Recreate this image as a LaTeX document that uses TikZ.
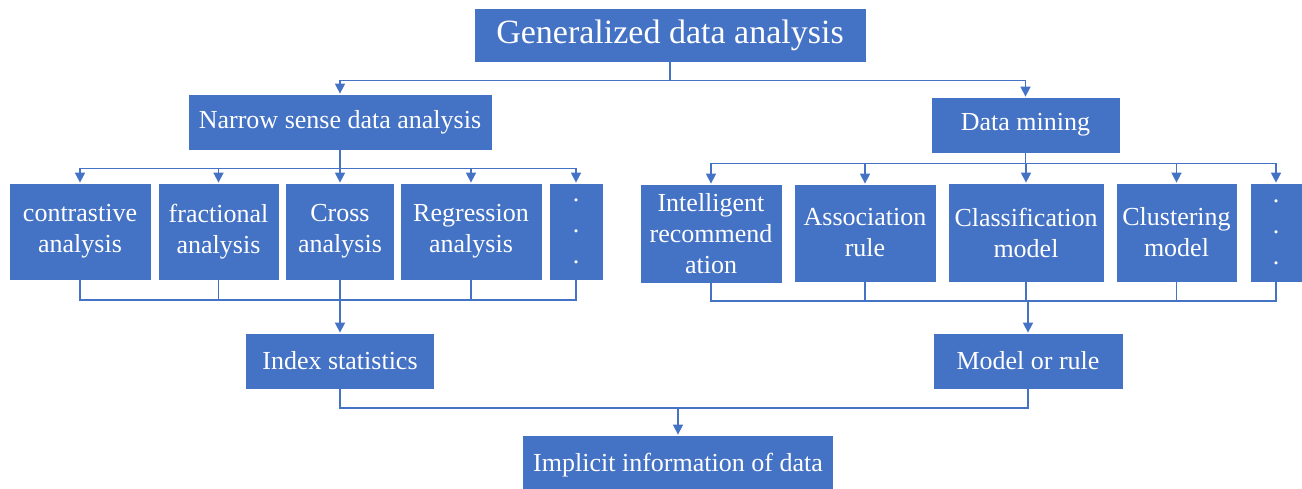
\documentclass[tikz,border=0pt]{standalone}
\usepackage{fontspec}
\setmainfont{Liberation Serif}
\usepackage{xcolor}
\usepackage{tikz}
\usetikzlibrary{arrows.meta}
\definecolor{cajazul}{RGB}{68,114,196}

\begin{document}
\begin{tikzpicture}[x=1pt, y=-1pt, line width=1.6pt,
    caja/.style={fill=cajazul, draw=white, line width=0.8pt, text=white,
        inner sep=0pt, align=center, font=\fontsize{26}{31}\selectfont},
    linea/.style={draw=cajazul},
    flecha/.style={draw=cajazul, -{Triangle[length=10pt,width=10pt]}}]
    \useasboundingbox (0,0) rectangle (1302,488);
    % nivel superior
    \node[caja, minimum width=392, minimum height=54,
        font=\fontsize{34}{40}\selectfont] (gen) at (670,35) {Generalized data analysis};
    \node[caja, minimum width=304, minimum height=56] (narrow) at (340,122) {Narrow sense data analysis};
    \node[caja, minimum width=189, minimum height=56] (mining) at (1025.5,125) {Data mining};
    \draw[flecha] (gen.south) -- ++(0,18) -| (narrow.north);
    \draw[flecha] (gen.south) -- ++(0,18) -| (mining.north);
    % metodos de analisis (izquierda)
    \node[caja, minimum width=142, minimum height=97] (c1) at (80,231.5) {contrastive\\analysis};
    \node[caja, minimum width=121, minimum height=97] (c2) at (218.5,231.5) {fractional\\analysis};
    \node[caja, minimum width=109, minimum height=97] (c3) at (340,231.5) {Cross\\analysis};
    \node[caja, minimum width=142, minimum height=97] (c4) at (471,231.5) {Regression\\analysis};
    \node[caja, minimum width=54, minimum height=97] (c5) at (576,231.5) {.\\.\\.};
    \foreach \c in {c1,c2,c3,c4,c5}
        \draw[flecha] (narrow.south) -- ++(0,18) -| (\c.north);
    % metodos de mineria (derecha)
    \node[caja, minimum width=142, minimum height=99] (d1) at (711,233.5) {Intelligent\\recommend\\ation};
    \node[caja, minimum width=142, minimum height=98] (d2) at (865,233) {Association\\rule};
    \node[caja, minimum width=156, minimum height=99] (d3) at (1026,232.5) {Classification\\model};
    \node[caja, minimum width=121, minimum height=99] (d4) at (1176.5,232.5) {Clustering\\model};
    \node[caja, minimum width=52, minimum height=99] (d5) at (1276,232.5) {.\\.\\.};
    \foreach \d in {d1,d2,d3,d4,d5}
        \draw[flecha] (mining.south) -- ++(0,10) -| (\d.north);
    % resultados
    \node[caja, minimum width=189, minimum height=56] (index) at (340,361) {Index statistics};
    \node[caja, minimum width=190, minimum height=56] (model) at (1028,361) {Model or rule};
    \coordinate (jl) at (340,300);
    \coordinate (jr) at (1028,301);
    \foreach \c in {c1,c2,c3,c4,c5}
        \draw[linea] (\c.south) |- (jl);
    \foreach \d in {d1,d2,d3,d4,d5}
        \draw[linea] (\d.south) |- (jr);
    \draw[flecha] (jl) -- (index.north);
    \draw[flecha] (jr) -- (model.north);
    % informacion implicita
    \node[caja, minimum width=311, minimum height=60] (implicit) at (678,465) {Implicit information of data};
    \coordinate (jb) at (678,408);
    \draw[linea] (index.south) |- (jb);
    \draw[linea] (model.south) |- (jb);
    \draw[flecha] (jb) -- (implicit.north);
\end{tikzpicture}
\end{document}
